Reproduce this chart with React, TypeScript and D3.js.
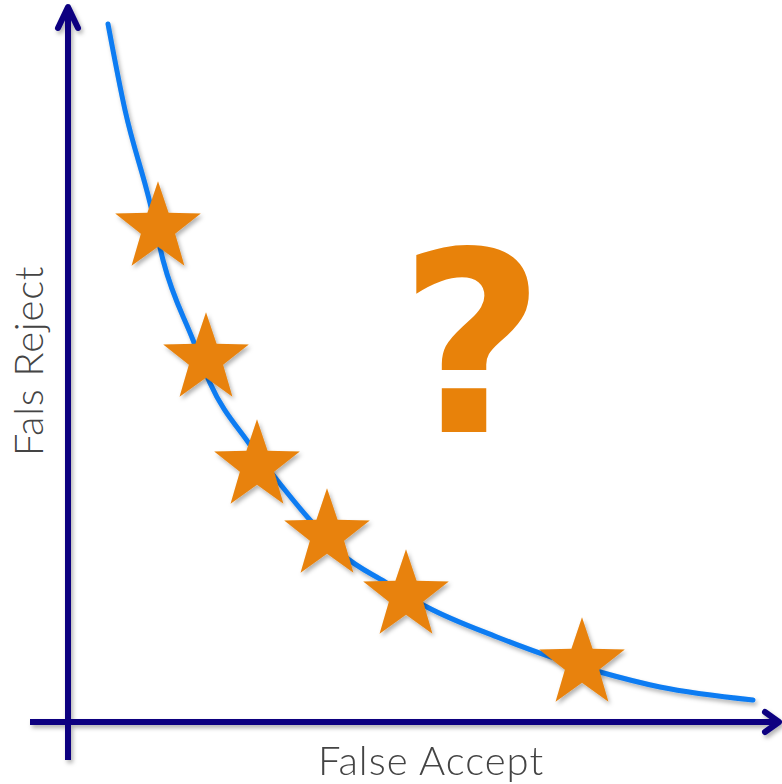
import { useEffect, useRef } from "react";
import * as d3 from "d3";

// Trade-off curve (chart units, origin at the axes' crossing)
const curveFA = [40, 57, 82, 95, 125, 142, 180, 209, 242, 275, 317, 359, 429, 492, 532, 592, 685];
const curveFR = [698, 612, 519, 462, 382, 339, 280, 242, 202, 167, 140, 115, 85, 62, 50, 35, 22];

// Operating points (stars)
const starFA = [90, 138, 189, 259, 338, 514];
const starFR = [494, 363, 256, 187, 126, 58];

const xLabel = "False Accept";
const yLabel = "Fals Reject";
const mark = "?";

const W = 782;
const H = 784;

function starPath(R: number) {
  const r = R * 0.4;
  const pts: [number, number][] = [];
  for (let i = 0; i < 10; i++) {
    const a = -Math.PI / 2 + (i * Math.PI) / 5;
    const rad = i % 2 === 0 ? R : r;
    pts.push([rad * Math.cos(a), rad * Math.sin(a) * 1.04]);
  }
  return "M" + pts.map((p) => p.join(",")).join("L") + "Z";
}

export default function App() {
  const ref = useRef<SVGSVGElement>(null);

  useEffect(() => {
    if (!ref.current) return;
    const svg = d3.select(ref.current);
    svg.selectAll("*").remove();

    const x = d3.scaleLinear().domain([0, 700]).range([68, 768]);
    const y = d3.scaleLinear().domain([0, 700]).range([722, 22]);

    const defs = svg.append("defs");
    defs.append("filter").attr("id", "sh")
      .attr("x", "-20%").attr("y", "-20%").attr("width", "140%").attr("height", "140%")
      .append("feDropShadow")
      .attr("dx", 2).attr("dy", 3).attr("stdDeviation", 2)
      .attr("flood-color", "#000").attr("flood-opacity", 0.3);

    const navy = "#0b0580";

    // Axes
    const axes = svg.append("g").attr("filter", "url(#sh)")
      .attr("stroke", navy).attr("stroke-width", 6).attr("fill", "none")
      .attr("stroke-linecap", "round").attr("stroke-linejoin", "round");
    axes.append("line")
      .attr("x1", x(0)).attr("x2", x(0))
      .attr("y1", y(-38)).attr("y2", y(714))
      .attr("stroke-linecap", "butt");
    axes.append("path")
      .attr("d", `M${x(-10)},${y(694)}L${x(0)},${y(715)}L${x(10)},${y(694)}`);
    axes.append("line")
      .attr("x1", x(-38)).attr("x2", x(710))
      .attr("y1", y(0)).attr("y2", y(0))
      .attr("stroke-linecap", "butt");
    axes.append("path")
      .attr("d", `M${x(697)},${y(10)}L${x(711)},${y(0)}L${x(697)},${y(-10)}`);

    // Curve
    const pts: [number, number][] = curveFA.map((v, i) => [v, curveFR[i]]);
    const line = d3.line<[number, number]>()
      .x((d) => x(d[0])).y((d) => y(d[1]))
      .curve(d3.curveMonotoneX);
    svg.append("path")
      .datum(pts)
      .attr("d", line)
      .attr("fill", "none")
      .attr("stroke", "#0a7bf2")
      .attr("stroke-width", 5)
      .attr("stroke-linecap", "round")
      .attr("filter", "url(#sh)");

    // Stars
    svg.append("g").attr("filter", "url(#sh)")
      .selectAll("path")
      .data(starFA.map((v, i) => [v, starFR[i]]))
      .join("path")
      .attr("transform", (d) => `translate(${x(d[0])},${y(d[1])})`)
      .attr("d", starPath(45))
      .attr("fill", "#e8820a");

    // Big question mark
    svg.append("text")
      .attr("x", x(404)).attr("y", y(290))
      .attr("text-anchor", "middle")
      .attr("font-family", "'DejaVu Sans', sans-serif")
      .attr("font-weight", 700)
      .attr("font-size", 252)
      .attr("fill", "#e8820a")
      .text(mark);

    // Axis labels
    svg.append("text")
      .attr("x", x(363)).attr("y", 775)
      .attr("text-anchor", "middle")
      .attr("font-family", "Lato, 'Open Sans', sans-serif")
      .attr("font-weight", 300)
      .attr("font-size", 40)
      .attr("letter-spacing", 1)
      .attr("fill", "#444")
      .text(xLabel);

    svg.append("text")
      .attr("transform", `translate(43,${y(361)}) rotate(-90)`)
      .attr("text-anchor", "middle")
      .attr("font-family", "Lato, 'Open Sans', sans-serif")
      .attr("font-weight", 300)
      .attr("font-size", 40)
      .attr("letter-spacing", 0.8)
      .attr("fill", "#444")
      .text(yLabel);
  }, []);

  return (
    <svg
      ref={ref}
      width={W}
      height={H}
      style={{ position: "absolute", left: 0, top: 0, background: "#fff" }}
    />
  );
}
